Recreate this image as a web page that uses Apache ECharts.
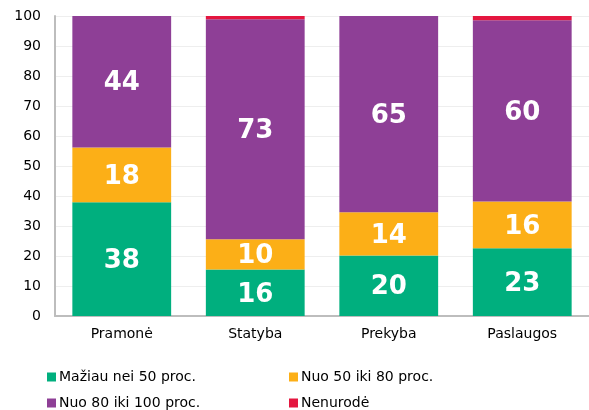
<!DOCTYPE html>
<html>
<head>
<meta charset="utf-8">
<script src="https://cdn.jsdelivr.net/npm/echarts@6/dist/echarts.min.js"></script>
<style>
  html, body { margin: 0; padding: 0; background: #fff; }
  #chart { width: 589px; height: 410px; }
</style>
</head>
<body>
<div id="chart"></div>
<script>
// duomenys
const categories = ['Pramonė', 'Statyba', 'Prekyba', 'Paslaugos'];
const seriesNames = ['Mažiau nei 50 proc.', 'Nuo 50 iki 80 proc.', 'Nuo 80 iki 100 proc.', 'Nenurodė'];
const under50 = [37.9, 15.5, 20.2, 22.6];
const from50to80 = [18.3, 10.1, 14.4, 15.6];
const from80to100 = [43.8, 73.3, 65.4, 60.4];
const notSpecified = [0, 1.1, 0, 1.4];
const colors = ['#00af7e', '#fcaf17', '#8e3f96', '#e4163f'];

const chart = echarts.init(document.getElementById('chart'));

const font = '"DejaVu Sans", Verdana, sans-serif';

const makeSeries = (name, data, color, showLabel) => ({
    name: name,
    type: 'bar',
    stack: 'total',
    data: data,
    barWidth: '74%',
    itemStyle: { color: color },
    label: {
        show: showLabel,
        position: 'inside',
        offset: [0, 2],
        color: '#fff',
        fontFamily: font,
        fontWeight: 'bold',
        fontSize: 26,
        formatter: p => Math.round(p.value)
    }
});

// viena legenda kiekvienam elementui (2 stulpeliai x 2 eilutės)
const legendPos = [[47, 370], [289, 370], [47, 396], [289, 396]];
const legends = seriesNames.map((n, i) => ({
    left: legendPos[i][0],
    top: legendPos[i][1],
    padding: 0,
    itemWidth: 9,
    itemHeight: 9,
    icon: 'rect',
    data: [n],
    textStyle: { color: '#000', fontFamily: font, fontSize: 14, padding: [0, 0, 0, -2] }
}));

chart.setOption({
    animation: false,
    grid: { left: 55, right: -3, top: 16, bottom: 94 },
    xAxis: {
        type: 'category',
        data: categories,
        axisLine: { lineStyle: { color: '#bdbdbd', width: 2 } },
        axisTick: { show: false },
        axisLabel: { color: '#000', fontFamily: font, fontSize: 14, margin: 11 }
    },
    yAxis: {
        type: 'value',
        min: 0,
        max: 100,
        interval: 10,
        axisLine: { show: true, lineStyle: { color: '#bdbdbd', width: 2 } },
        axisTick: { show: false },
        splitLine: { lineStyle: { color: '#eeeeee' } },
        axisLabel: { color: '#000', fontFamily: font, fontSize: 14, margin: 14 }
    },
    legend: legends,
    series: [
        makeSeries(seriesNames[0], under50, colors[0], true),
        makeSeries(seriesNames[1], from50to80, colors[1], true),
        makeSeries(seriesNames[2], from80to100, colors[2], true),
        makeSeries(seriesNames[3], notSpecified, colors[3], false)
    ]
});
</script>
</body>
</html>
